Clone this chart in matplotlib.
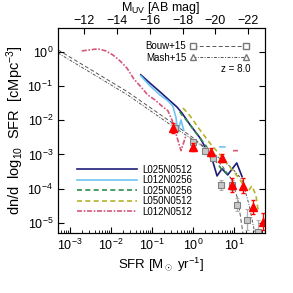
import numpy as np
import matplotlib
matplotlib.use("Agg")
import matplotlib.pyplot as plt

plt.rcParams['font.family'] = ['Liberation Sans', 'DejaVu Sans']
plt.rcParams['mathtext.fontset'] = 'custom'
plt.rcParams['mathtext.rm'] = 'Liberation Sans'
plt.rcParams['mathtext.it'] = 'Liberation Sans:italic'
plt.rcParams['mathtext.bf'] = 'Liberation Sans:bold'

# all values are log10(SFR) and log10(phi)
bouw_fit_lsfr = [-3.29, -1.59, -0.44, 0.0, 0.41, 0.71, 0.95, 1.10, 1.22, 1.30]
bouw_fit_lphi = [0.06, -1.17, -2.13, -2.51, -2.92, -3.33, -3.74, -4.33, -5.29, -5.8]
mash_fit_lsfr = [-3.29, -1.59, -0.44, 0.0, 0.54, 0.95, 1.20, 1.37, 1.51, 1.58]
mash_fit_lphi = [-0.03, -1.26, -2.22, -2.57, -3.01, -3.39, -3.74, -4.47, -5.29, -5.8]

sq_lsfr = [-0.44, 0.0, 0.29, 0.49, 0.68, 0.95, 1.07, 1.32, 1.59]
sq_lphi = [-2.22, -2.63, -2.89, -3.10, -3.89, -3.89, -4.47, -4.91, -5.26]
sq_err = [0.08, 0.08, 0.10, 0.10, 0.15, 0.15, 0.20, 0.30, 0.35]

tri_lsfr = [-0.49, 0.0, 0.44, 0.71, 0.95, 1.22, 1.46, 1.71]
tri_lphi = [-2.22, -2.78, -2.92, -3.10, -3.89, -3.92, -4.53, -4.97]
tri_err = [0.15, 0.12, 0.12, 0.12, 0.20, 0.22, 0.20, 0.25]

l025n0512_lsfr = [-1.27, -1.05, -0.80, -0.56, -0.39, -0.27, -0.07, 0.17, 0.34, 0.49, 0.59, 0.71, 0.85, 1.07, 1.20]
l025n0512_lphi = [-0.67, -0.91, -1.17, -1.43, -1.61, -1.78, -2.13, -2.51, -2.87, -3.22, -3.63, -3.42, -3.60, -3.25, -3.65]

l012n0256_lsfr = [-1.27, -1.05, -0.80, -0.61, -0.49, -0.41, -0.37, -0.29, -0.22, np.nan, 0.66, 0.78]
l012n0256_lphi = [-0.70, -0.99, -1.26, -1.43, -1.58, -1.93, -2.37, -1.99, -2.30, np.nan, -2.78, -2.78]

l025n0256_lsfr = [-0.32, -0.27, -0.12, 0.02, 0.17, 0.32, 0.46, 0.59, 0.71, 0.85]
l025n0256_lphi = [-1.75, -1.84, -2.05, -2.28, -2.51, -2.75, -3.01, -3.25, -3.45, -3.57]

l050n0512_lsfr = [-0.24, -0.07, 0.17, 0.41, 0.66, 0.90, 1.15, 1.34, 1.44, 1.54, 1.59]
l050n0512_lphi = [-1.64, -1.87, -2.28, -2.66, -3.01, -3.36, -3.74, -4.10, -3.92, -4.20, -4.62]

l012n0512_lsfr = [-2.71, -2.51, -2.32, -2.12, -1.95, -1.78, -1.61, -1.44, -1.27, -1.10, -0.93, -0.76, -0.61, -0.51, -0.44, -0.29, -0.17, np.nan, 0.98, 1.10]
l012n0512_lphi = [0.03, 0.06, 0.09, 0.03, -0.09, -0.26, -0.47, -0.79, -1.02, -1.26, -1.40, -1.58, -1.72, -1.99, -2.28, -2.89, -2.46, np.nan, -2.89, -2.89]

sim_labels = ['L025N0512', 'L012N0256', 'L025N0256', 'L050N0512', 'L012N0512']
sim_colors = ['#1c1c78', '#6fc3f5', '#2e8b4a', '#b4b42a', '#d4577a']


def p(v):
    return 10 ** np.asarray(v, dtype=float)


fig = plt.figure(figsize=(2.93, 2.93), dpi=100)
ax = fig.add_axes([58 / 293, 1 - 233 / 293, 207 / 293, 205 / 293])
ax.set_xscale('log')
ax.set_yscale('log')
xlo, xhi = 10 ** -3.29, 10 ** 1.76
ax.set_xlim(xlo, xhi)
ax.set_ylim(10 ** -5.3, 10 ** 0.7)

# observational fits
ax.plot(p(bouw_fit_lsfr), p(bouw_fit_lphi), color='#555555', lw=0.7, ls=(0, (4, 2.5)))
ax.plot(p(mash_fit_lsfr), p(mash_fit_lphi), color='#555555', lw=0.7, ls=(0, (3, 1.5, 1, 1.5)))

# simulations
sims = [(l025n0512_lsfr, l025n0512_lphi, '-'),
        (l012n0256_lsfr, l012n0256_lphi, '-'),
        (l025n0256_lsfr, l025n0256_lphi, (0, (3, 2))),
        (l050n0512_lsfr, l050n0512_lphi, (0, (3, 2))),
        (l012n0512_lsfr, l012n0512_lphi, (0, (3, 1, 1, 1)))]
handles = []
for (xs, ys, ls), lab, col in zip(sims, sim_labels, sim_colors):
    h, = ax.plot(p(xs), p(ys), color=col, lw=1.2, ls=ls, label=lab)
    handles.append(h)

# data points
sq_y = p(sq_lphi)
ax.errorbar(p(sq_lsfr), sq_y,
            yerr=[sq_y - p(np.array(sq_lphi) - sq_err), p(np.array(sq_lphi) + sq_err) - sq_y],
            fmt='s', ms=5, mfc='#c8c8c8', mec='#808080', mew=0.8,
            ecolor='#b0b0b0', elinewidth=0.9, capsize=1.5, zorder=4)
tri_y = p(tri_lphi)
ax.errorbar(p(tri_lsfr), tri_y,
            yerr=[tri_y - p(np.array(tri_lphi) - tri_err), p(np.array(tri_lphi) + tri_err) - tri_y],
            fmt='^', ms=5.5, mfc='red', mec='red',
            ecolor='red', elinewidth=0.9, capsize=1.5, zorder=5)

ax.tick_params(which='both', direction='in', top=False, right=True, labelsize=9)
ax.tick_params(which='major', length=4)
ax.tick_params(which='minor', length=2)
ax.tick_params(axis='y', which='minor', left=False, right=False)
ax.set_xlabel(r'SFR [M$_\odot$ yr$^{-1}$]', fontsize=9.5, labelpad=2)
ax.set_ylabel(r'dn/d  log$_{10}$  SFR  [cMpc$^{-3}$]', fontsize=10.5, labelpad=1)

# top axis in UV magnitude (linear in log SFR)
ax2 = ax.twiny()
ax2.set_xlim(-2.5 * np.log10(xlo) - 18.625, -2.5 * np.log10(xhi) - 18.625)
ax2.set_xticks([-12, -14, -16, -18, -20, -22])
ax2.tick_params(direction='in', length=4, labelsize=9, pad=1)
fig.text(161 / 293, 1 - 8 / 293, r'M$_{\rm UV}$ [AB mag]', ha='center', va='center', fontsize=9)

# legends
obs_h = [plt.Line2D([0], [0], color='#555555', lw=0.7, ls=(0, (4, 2.5)), marker='s',
                    mfc='white', mec='#777777', ms=5),
         plt.Line2D([0], [0], color='#555555', lw=0.7, ls=(0, (3, 1.5, 1, 1.5)), marker='^',
                    mfc='white', mec='#777777', ms=5)]
leg1 = ax.legend(obs_h, ['Bouw+15', 'Mash+15'], loc='upper right', bbox_to_anchor=(0.92, 0.935),
                 frameon=False, fontsize=7, markerfirst=False, numpoints=2, handlelength=6,
                 handletextpad=0.4, labelspacing=0.15, borderpad=0, borderaxespad=0)
ax.add_artist(leg1)
ax.text(0.93, 0.80, 'z = 8.0', transform=ax.transAxes, ha='right', va='center', fontsize=7)

ax.legend(handles=handles, loc='lower left', bbox_to_anchor=(0.09, 0.08), frameon=False,
          fontsize=7, handlelength=6.2, handletextpad=0.6, labelspacing=0.05,
          borderpad=0, borderaxespad=0)

fig.savefig('out.png', dpi=100)
